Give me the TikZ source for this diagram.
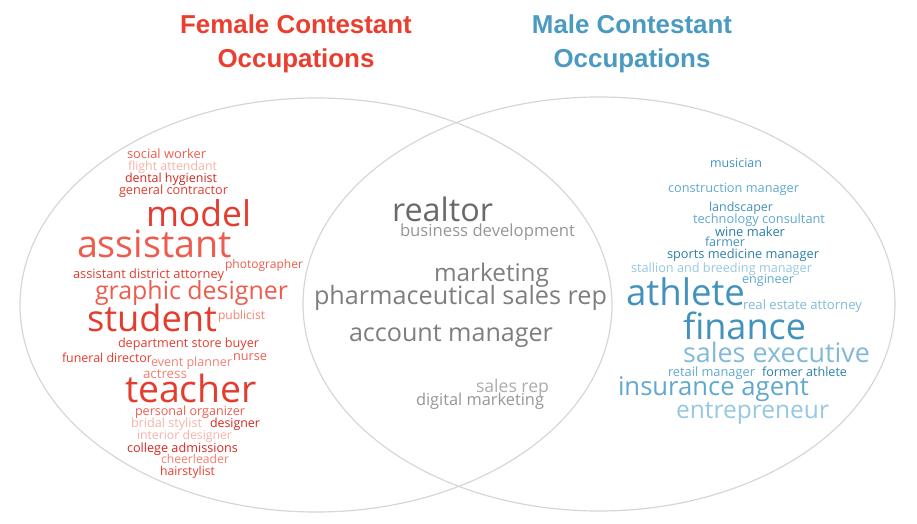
\documentclass[tikz,border=0pt]{standalone}
\usepackage{fontspec}
\usepackage{graphicx}
\usepackage{tikz}
\setmainfont{Open Sans}
\newfontfamily\headfont{Liberation Sans}
\definecolor{rim}{RGB}{214,214,214}
\definecolor{femhead}{RGB}{234,62,46}
\definecolor{malehead}{RGB}{74,154,194}
\definecolor{fdark}{RGB}{212,40,30}
\definecolor{fmid}{RGB}{228,60,46}
\definecolor{fsoft}{RGB}{238,92,78}
\definecolor{flite}{RGB}{242,128,114}
\definecolor{fpale}{RGB}{246,178,168}
\definecolor{mdark}{RGB}{44,126,170}
\definecolor{mmid}{RGB}{66,146,188}
\definecolor{mlite}{RGB}{96,168,206}
\definecolor{msoft}{RGB}{128,186,216}
\definecolor{mpale}{RGB}{150,200,225}
\definecolor{gdark}{RGB}{105,105,105}
\definecolor{gmid}{RGB}{126,126,126}
\definecolor{glite}{RGB}{150,150,150}
\definecolor{gpale}{RGB}{172,172,172}
\newcommand{\fitword}[3]{\resizebox{\dimexpr#2bp-#1bp+2bp\relax}{!}{\fontsize{20}{24}\selectfont #3}}

\begin{document}
\begin{tikzpicture}[x=1bp,y=-1bp,
  title/.style={anchor=base,inner sep=0pt,font=\headfont\bfseries\fontsize{26}{30}\selectfont},
  occ/.style={anchor=base west,inner sep=0pt,outer sep=0pt}]
 \useasboundingbox (0,0) rectangle (917,524);
 \draw[rim,line width=1.2bp] (316,305) ellipse [x radius=296,y radius=207];
 \draw[rim,line width=1.2bp] (599,304) ellipse [x radius=296,y radius=207];
 \node[title,text=femhead] (femtitle) at (296,34) {Female Contestant};
 \node[title,text=femhead] (femsub) at (296,68) {Occupations};
 \node[title,text=malehead] (maletitle) at (632,34) {Male Contestant};
 \node[title,text=malehead] (malesub) at (632,68) {Occupations};
 \foreach \xl/\xr/\yb/\c/\w [count=\i] in {
   128/205/159/fsoft/social worker, 129/216/171/fpale/flight attendant,
   126/216/183/fdark/dental hygienist, 120/227/195/fmid/general contractor,
   147/250/227/fmid/model, 78/231/258/fsoft/assistant,
   226/302/269/fsoft/photographer, 74/223/279/fmid/assistant district attorney,
   96/287/300/fsoft/graphic designer, 88/216/332/fmid/student,
   219/264/320/flite/publicist, 119/258/348/fmid/department store buyer,
   63/151/363/fmid/funeral director, 152/231/367/flite/event planner,
   234/266/361/fsoft/nurse, 144/186/378/flite/actress,
   126/256/402/fmid/teacher, 136/244/415/fsoft/personal organizer,
   132/201/427/fpale/bridal stylist, 211/259/427/fdark/designer,
   138/231/439/fpale/interior designer, 128/237/452/fdark/college admissions,
   162/228/463/flite/cheerleader, 161/214/475/fmid/hairstylist}
   \node[occ,text=\c] (fem\i) at (\xl-1,\yb) {\fitword{\xl}{\xr}{\w}};
 \foreach \xl/\xr/\yb/\c/\w [count=\i] in {
   393/492/222/gdark/realtor, 401/574/237/glite/business development,
   435/548/282/gmid/marketing, 315/606/305/gmid/pharmaceutical sales rep,
   350/552/342/gmid/account manager, 477/548/392/gpale/sales rep,
   417/543/405/glite/digital marketing}
   \node[occ,text=\c] (both\i) at (\xl-1,\yb) {\fitword{\xl}{\xr}{\w}};
 \foreach \xl/\xr/\yb/\c/\w [count=\i] in {
   711/761/168/mmid/musician, 669/798/193/mlite/construction manager,
   710/772/212/mmid/landscaper, 694/824/224/mlite/technology consultant,
   716/784/237/mdark/wine maker, 706/744/247/mmid/farmer,
   668/818/259/mdark/sports medicine manager, 632/811/273/mpale/stallion and breeding manager,
   743/793/284/mlite/engineer, 627/744/306/mmid/athlete,
   744/861/310/msoft/real estate attorney, 684/805/339/mmid/finance,
   684/869/363/msoft/sales executive, 669/754/377/mlite/retail manager,
   763/846/376/mdark/former athlete, 619/808/395/mlite/insurance agent,
   677/828/418/mpale/entrepreneur}
   \node[occ,text=\c] (male\i) at (\xl-1,\yb) {\fitword{\xl}{\xr}{\w}};
\end{tikzpicture}
\end{document}
